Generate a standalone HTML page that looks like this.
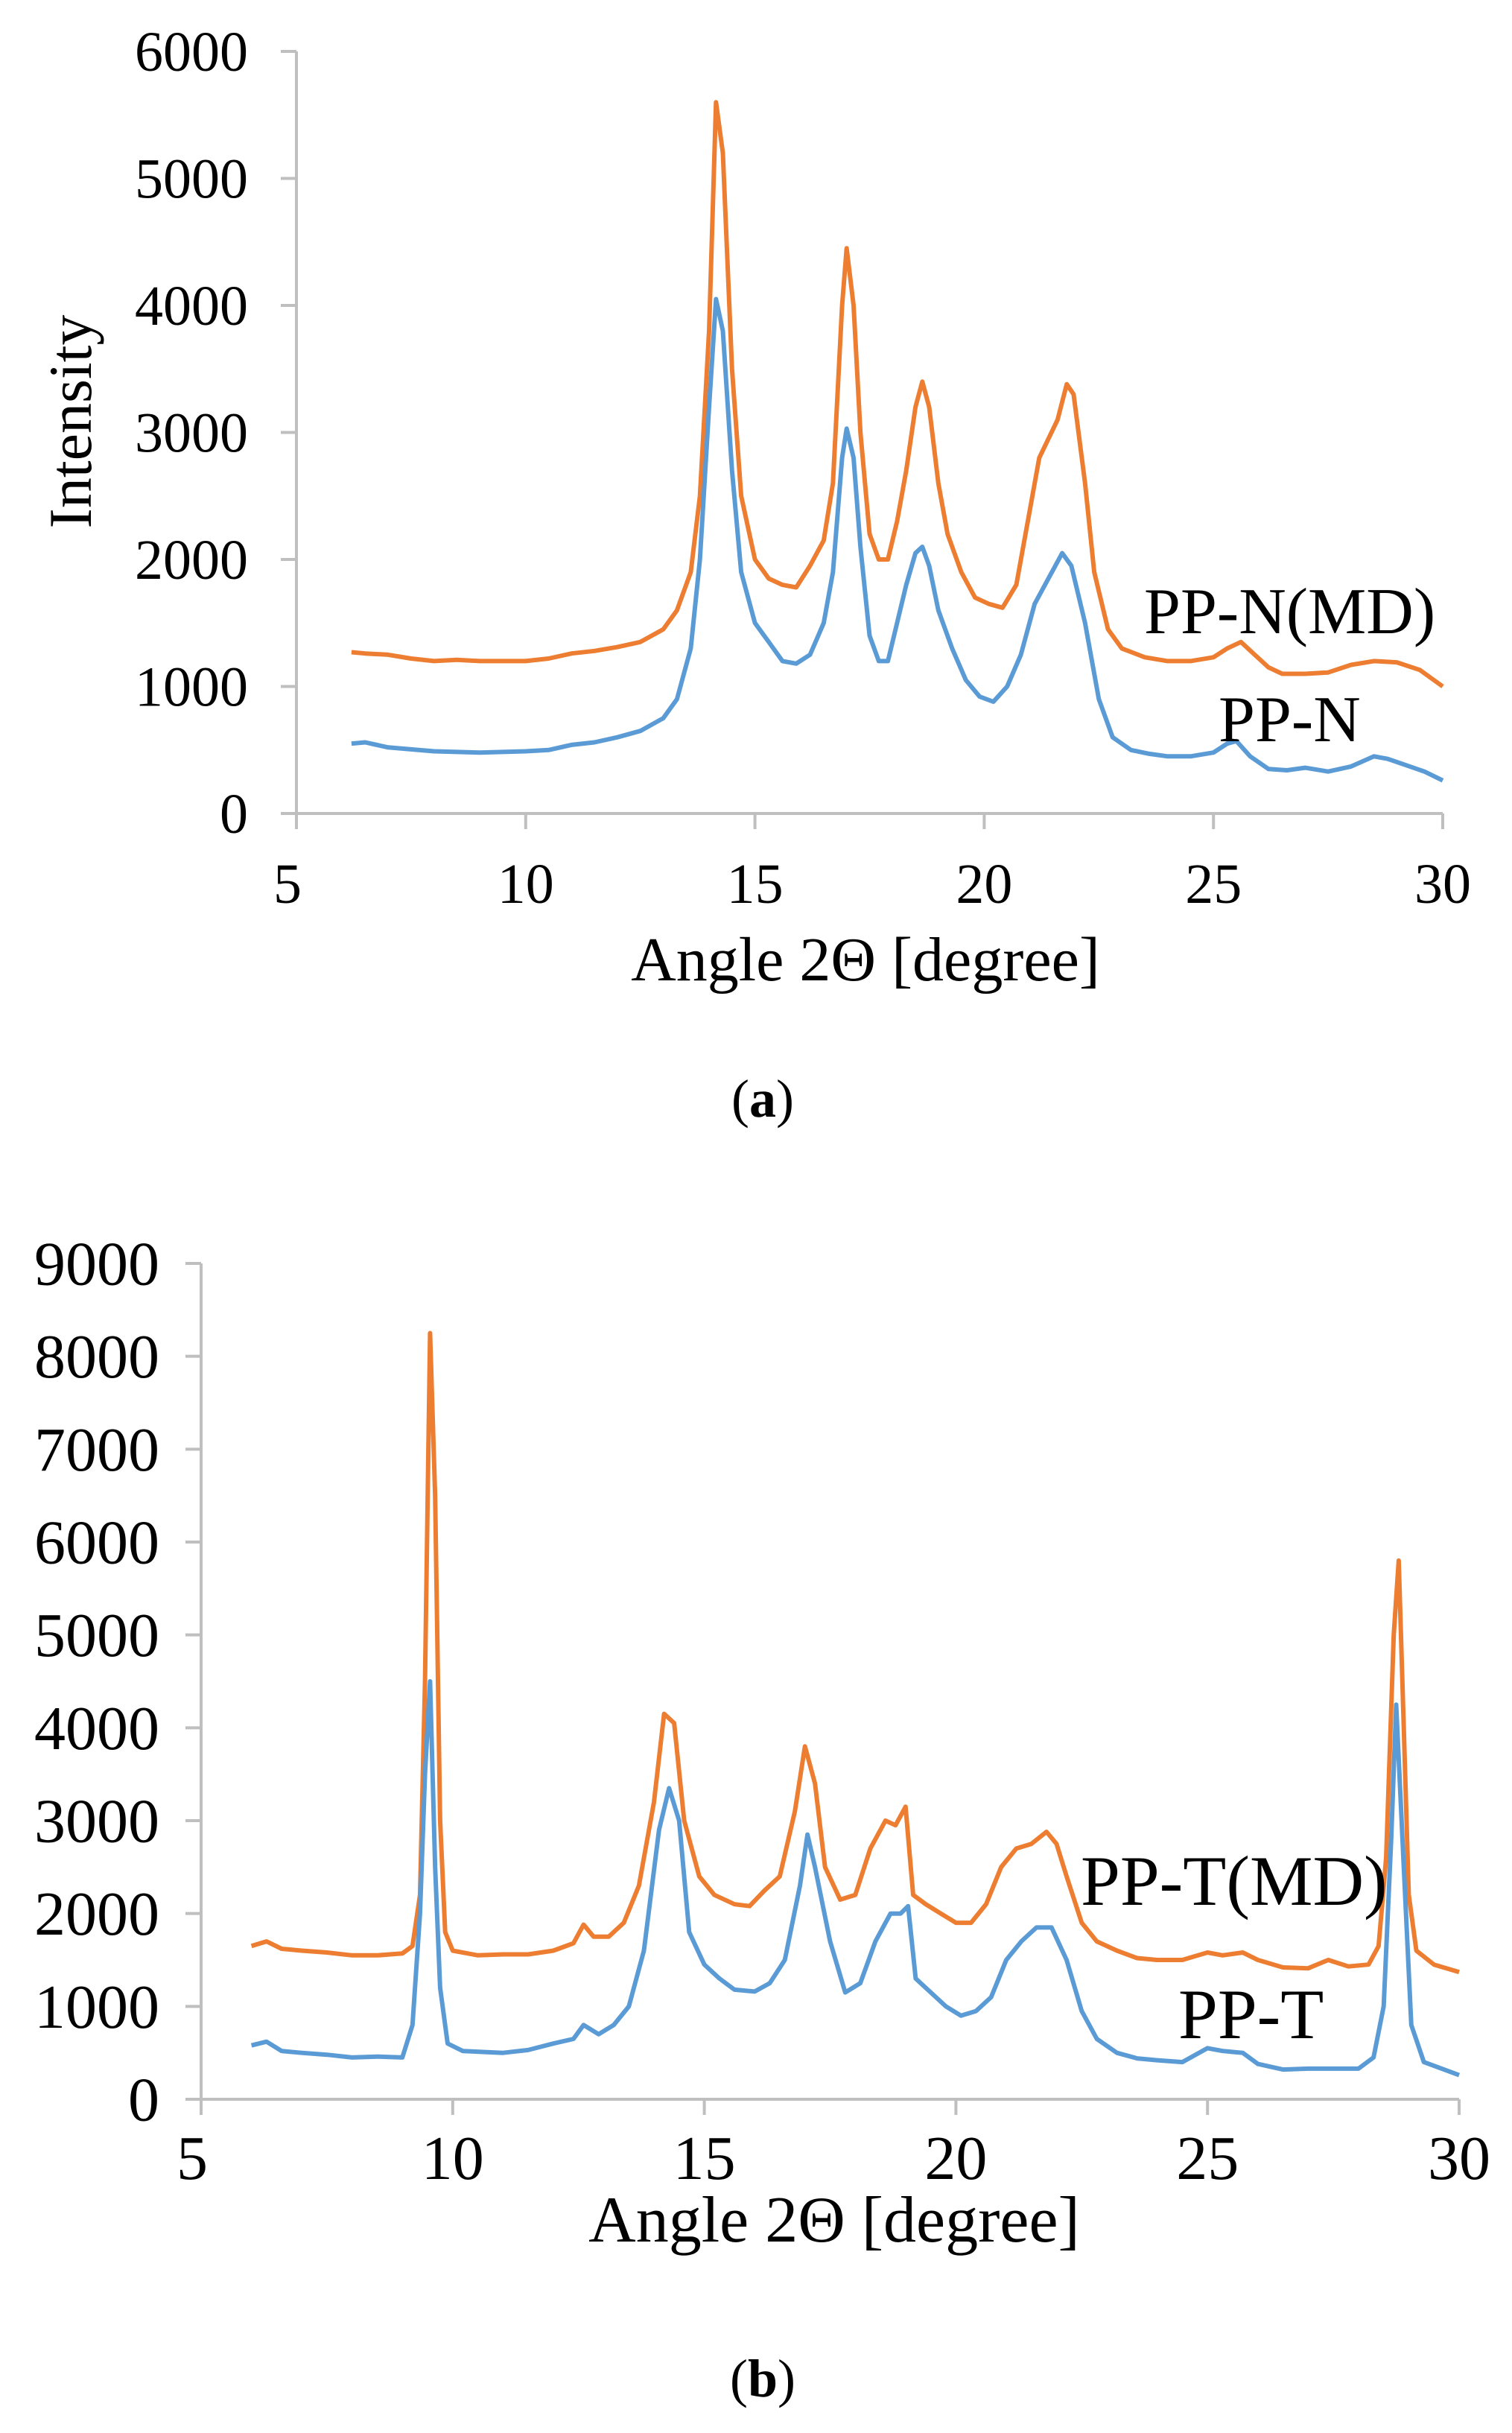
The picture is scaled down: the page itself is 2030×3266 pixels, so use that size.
<!DOCTYPE html>
<html><head><meta charset="utf-8"><style>
html,body{margin:0;padding:0;background:#fff}
svg{display:block}
text{font-family:"Liberation Serif",serif;fill:#000}
</style></head><body>
<svg id="c" width="2030" height="3266" viewBox="0 0 2030 3266"></svg>
<script>
// Panel (a) data
const aX_MD=[6.2,6.5,7,7.5,8,8.5,9,9.5,10,10.5,11,11.5,12,12.5,13,13.3,13.6,13.8,14.0,14.15,14.3,14.5,14.7,15,15.3,15.6,15.9,16.2,16.5,16.7,16.9,17.0,17.15,17.3,17.5,17.7,17.9,18.1,18.3,18.5,18.65,18.8,19.0,19.2,19.5,19.8,20.1,20.4,20.7,21.0,21.2,21.4,21.6,21.8,21.95,22.2,22.4,22.7,23,23.5,24,24.5,25,25.3,25.6,25.9,26.2,26.5,27,27.5,28,28.5,29,29.5,30];
const aY_MD=[1270,1260,1250,1220,1200,1210,1200,1200,1200,1220,1260,1280,1310,1350,1450,1600,1900,2500,3800,5600,5200,3500,2500,2000,1850,1800,1780,1950,2150,2600,4000,4450,4000,3000,2200,2000,2000,2300,2700,3200,3400,3200,2600,2200,1900,1700,1650,1620,1800,2400,2800,2950,3100,3380,3300,2600,1900,1450,1300,1230,1200,1200,1230,1300,1350,1250,1150,1100,1100,1110,1170,1200,1190,1130,1000];
const aX_N=[6.2,6.5,7,8,9,10,10.5,11,11.5,12,12.5,13,13.3,13.6,13.8,14.0,14.15,14.3,14.5,14.7,15,15.3,15.6,15.9,16.2,16.5,16.7,16.9,17.0,17.15,17.3,17.5,17.7,17.9,18.1,18.3,18.5,18.65,18.8,19.0,19.3,19.6,19.9,20.2,20.5,20.8,21.1,21.4,21.7,21.9,22.2,22.5,22.8,23.2,23.6,24,24.5,25,25.3,25.5,25.8,26.2,26.6,27,27.5,28,28.5,28.8,29.2,29.6,30];
const aY_N=[550,560,520,490,480,490,500,540,560,600,650,750,900,1300,2000,3200,4050,3800,2700,1900,1500,1350,1200,1180,1250,1500,1900,2800,3030,2800,2100,1400,1200,1200,1500,1800,2050,2100,1950,1600,1300,1050,920,880,1000,1250,1650,1850,2050,1950,1500,900,600,500,470,450,450,480,550,570,450,350,340,360,330,370,450,430,380,330,260];
const aYTicks=[0,1000,2000,3000,4000,5000,6000];
const xTicks=[5,10,15,20,25,30];
// Panel (b) data
const bX_MD=[6,6.3,6.6,7,7.5,8,8.5,9,9.2,9.35,9.45,9.55,9.65,9.75,9.85,10,10.5,11,11.5,12,12.4,12.6,12.8,13.1,13.4,13.7,14.0,14.2,14.4,14.6,14.9,15.2,15.6,15.9,16.2,16.5,16.8,17.0,17.2,17.4,17.7,18.0,18.3,18.6,18.8,19.0,19.15,19.4,19.7,20.0,20.3,20.6,20.9,21.2,21.5,21.8,22.0,22.2,22.5,22.8,23.2,23.6,24,24.5,25,25.3,25.7,26,26.5,27,27.4,27.8,28.2,28.4,28.55,28.7,28.8,28.9,29.0,29.15,29.5,30];
const bY_MD=[1650,1700,1620,1600,1580,1550,1550,1570,1650,2200,4500,8250,6500,3000,1800,1600,1550,1560,1560,1600,1680,1880,1750,1750,1900,2300,3200,4150,4050,3000,2400,2200,2100,2080,2250,2400,3100,3800,3400,2500,2150,2200,2700,3000,2950,3150,2200,2100,2000,1900,1900,2100,2500,2700,2750,2880,2750,2400,1900,1700,1600,1520,1500,1500,1580,1550,1580,1500,1420,1410,1500,1430,1450,1650,2600,5000,5800,4000,2200,1600,1450,1370];
const bX_T=[6,6.3,6.6,7,7.5,8,8.5,9,9.2,9.35,9.45,9.55,9.65,9.75,9.9,10.2,11,11.5,12,12.4,12.6,12.9,13.2,13.5,13.8,14.1,14.3,14.5,14.7,15,15.3,15.6,16,16.3,16.6,16.9,17.05,17.2,17.5,17.8,18.1,18.4,18.7,18.9,19.05,19.2,19.5,19.8,20.1,20.4,20.7,21,21.3,21.6,21.9,22.2,22.5,22.8,23.2,23.6,24,24.5,25,25.3,25.7,26,26.5,27,27.5,28,28.3,28.5,28.65,28.75,28.9,29.05,29.3,29.7,30];
const bY_T=[580,620,520,500,480,450,460,450,800,2000,3500,4500,2500,1200,600,520,500,530,600,650,800,700,800,1000,1600,2900,3350,3000,1800,1450,1300,1180,1160,1250,1500,2300,2850,2500,1700,1150,1250,1700,2000,2000,2080,1300,1150,1000,900,950,1100,1500,1700,1850,1850,1500,950,650,500,440,420,400,550,520,500,380,320,330,330,330,450,1000,2800,4250,2500,800,400,320,260];
const bYTicks=[0,1000,2000,3000,4000,5000,6000,7000,8000,9000];

const svg=document.getElementById('c');
const NS='http://www.w3.org/2000/svg';
function mk(tag,attrs,parent){const e=document.createElementNS(NS,tag);for(const k in attrs)e.setAttribute(k,attrs[k]);(parent||svg).appendChild(e);return e;}

function panel(p){
  const g=mk('g',{});
  
  
  const sx=v=>p.x0+(v-5)/25*(p.x1-p.x0);
  const sy=v=>p.y0-v/p.ymax*(p.y0-p.yTop);
  const ax=mk('g',{stroke:'#BFBFBF','stroke-width':4,fill:'none'},g);
  
  
  mk('line',{x1:p.x0,y1:p.y0,x2:p.x1,y2:p.y0},ax);
  mk('line',{x1:p.x0,y1:p.y0,x2:p.x0,y2:sy(p.ymax)},ax);
  p.yt.forEach(v=>{mk('line',{x1:p.x0-21,y1:sy(v),x2:p.x0,y2:sy(v)},ax);
    const t=mk('text',{x:p.labR,y:sy(v)+p.fs*0.34,'text-anchor':'end','font-size':p.fs},g);
    t.textContent=v;
    
    });
  xTicks.forEach(v=>{mk('line',{x1:sx(v),y1:p.y0,x2:sx(v),y2:p.y0+21},ax);
    const t=mk('text',{x:sx(v)-(v===5?12:0),y:p.xlb,'text-anchor':'middle','font-size':p.fs},g);
    t.textContent=v;
    
    });
  p.series.forEach(s=>{
    const d=s.x.map((x,i)=>(i?'L':'M')+sx(x).toFixed(1)+' '+sy(s.y[i]).toFixed(1)).join(' ');
    const path=mk('path',{d:d,stroke:s.c,'stroke-width':6,fill:'none','stroke-linejoin':'round'},g);
    
    
  });
  p.texts.forEach(tx=>{const t=mk('text',Object.assign({'font-size':tx.fs},tx.a),g);
    if(tx.cap){t.appendChild(document.createTextNode('('));const b=mk('tspan',{'font-weight':'bold'},t);b.textContent=tx.s;t.appendChild(document.createTextNode(')'));}
    else t.textContent=tx.s;
    
    });
}
panel({name:'panel-a',x0:398,x1:1937,y0:1092,yTop:69,ymax:6000,yt:aYTicks,labR:333,xlb:1212,fs:76,
  series:[{x:aX_MD,y:aY_MD,c:'#ED7D31',n:'series-pp-n-md'},{x:aX_N,y:aY_N,c:'#5B9BD5',n:'series-pp-n'}],
  texts:[{s:'PP-N(MD)',fs:88,a:{x:1536,y:850},n:'label-pp-n-md'},{s:'PP-N',fs:88,a:{x:1636,y:995},n:'label-pp-n'},
    {s:'Intensity',fs:82,a:{x:0,y:0,transform:'translate(122,566) rotate(-90)','text-anchor':'middle'},n:'y-axis-title'},
    {s:'Angle 2Θ [degree]',fs:84,a:{x:1162,y:1316,'text-anchor':'middle'},n:'x-axis-title'},
    {s:'a',cap:true,fs:72,a:{x:1024,y:1499,'text-anchor':'middle'},n:'panel-a-caption'}]});
panel({name:'panel-b',x0:270,x1:1959,y0:2818,yTop:1696,ymax:9000,yt:bYTicks,labR:214,xlb:2925,fs:84,
  series:[{x:bX_MD,y:bY_MD,c:'#ED7D31',n:'series-pp-t-md'},{x:bX_T,y:bY_T,c:'#5B9BD5',n:'series-pp-t'}],
  texts:[{s:'PP-T(MD)',fs:95,a:{x:1451,y:2557},n:'label-pp-t-md'},{s:'PP-T',fs:95,a:{x:1582,y:2736},n:'label-pp-t'},
    {s:'Angle 2Θ [degree]',fs:88,a:{x:1120,y:3009,'text-anchor':'middle'},n:'x-axis-title'},
    {s:'b',cap:true,fs:72,a:{x:1024,y:3217,'text-anchor':'middle'},n:'panel-b-caption'}]});
</script>
</body></html>
